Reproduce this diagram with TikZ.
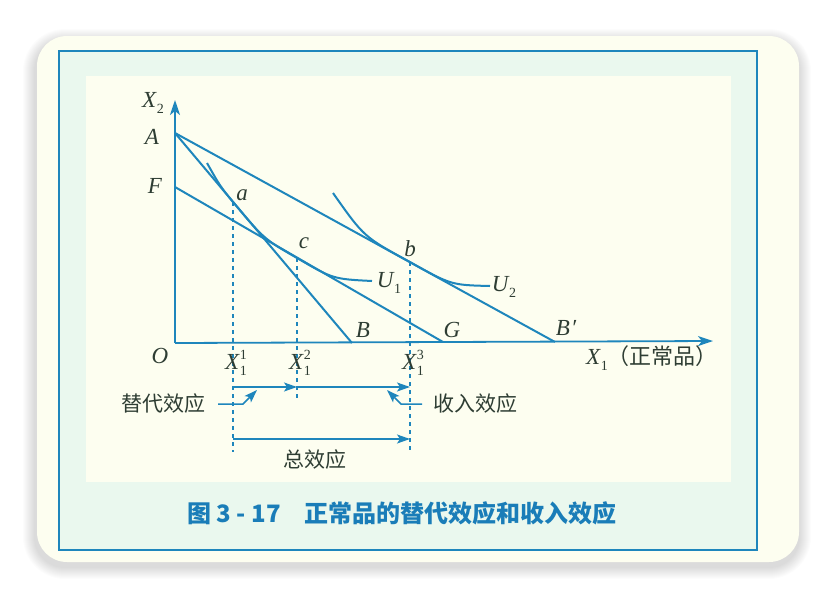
\documentclass[tikz,border=0pt]{standalone}
\usepackage{fontspec}
\setmainfont{Liberation Serif}
\newfontfamily\cjk{Noto Sans CJK SC}
\usetikzlibrary{arrows.meta}
\definecolor{lineblue}{HTML}{1E86BC}
\definecolor{txt}{HTML}{2E3D33}
\definecolor{capblue}{HTML}{1A7DB8}
\definecolor{card}{HTML}{FDFEF0}
\definecolor{mint}{HTML}{EAF8EE}
\newcommand{\smallidx}[1]{{\fontsize{14}{14}\selectfont\upshape #1}}
\newcommand{\Xsub}[1]{\textit{X}\kern0.5pt\raisebox{-0.28em}{\smallidx{#1}}}
\newcommand{\Xsubsup}[2]{\textit{X}\kern0.5pt\makebox[0pt][l]{\raisebox{0.42em}{\smallidx{#2}}}\raisebox{-0.3em}{\smallidx{#1}}}
\newcommand{\Usub}[1]{\textit{U}\kern0.5pt\raisebox{-0.28em}{\smallidx{#1}}}
\tikzset{
  curveline/.style={lineblue, line width=2pt},
  axisline/.style={lineblue, line width=1.8pt, -{Stealth[length=15pt,width=10pt,inset=4pt]}},
  guide/.style={lineblue, line width=1.2pt, dash pattern=on 4pt off 4pt},
  effarrow/.style={lineblue, line width=1.5pt, -{Stealth[length=13pt,width=9pt,inset=3pt]}},
  lbl/.style={text=txt, font=\fontsize{23}{26}\selectfont\itshape, inner sep=0pt},
  zlbl/.style={text=txt, font=\cjk\fontsize{21}{24}\selectfont, inner sep=0pt},
}
\begin{document}
\begin{tikzpicture}[x=1pt,y=-1pt]
\useasboundingbox (0,0) rectangle (836,598);
\fill[white] (0,0) rectangle (836,598);
% shadow
\foreach \i in {1,...,12}{
  \fill[black, opacity=0.012, rounded corners=30+\i] (37-\i-2,36-\i+5) rectangle (799+\i,562+\i+5);
}
% card
\fill[card, rounded corners=30] (37,36) rectangle (799,562);
% frame
\fill[mint] (59,51) rectangle (757,550);
\fill[card] (86,76) rectangle (731,482);
\draw[lineblue, line width=1.6pt] (59,51) rectangle (757,550);

% key points
\coordinate (O) at (175,343);
\coordinate (ytip) at (175,100);
\coordinate (xtip) at (713,341);
\coordinate (A) at (175,133);
\coordinate (F) at (175,187);
\coordinate (B) at (352,343);
\coordinate (G) at (443,342);
\coordinate (Bp) at (555,342);
\coordinate (a) at (233,202);
\coordinate (c) at (297,258);
\coordinate (b) at (410,262);
\coordinate (u1s) at (207,163);
\coordinate (u1e) at (372,281);
\coordinate (u2s) at (333,193);
\coordinate (u2e) at (490,286);

% axes
\draw[axisline] (O) -- (ytip);
\draw[axisline] (O) -- (xtip);

% budget lines
\draw[curveline] (A) -- (B);
\draw[curveline] (A) -- (Bp);
\draw[curveline] (F) -- (G);

% indifference curves
\draw[curveline] (u1s) .. controls (220,186) .. (a) .. controls (264,239) .. (c) .. controls (333,279) .. (u1e);
\draw[curveline] (u2s) .. controls (364,237) .. (b) .. controls (451,285) .. (u2e);

% dashed guides
\coordinate (a0) at (233,452);
\coordinate (c0) at (297,398);
\coordinate (b0) at (410,452);
\draw[guide] (a) -- (a0);
\draw[guide] (c) -- (c0);
\draw[guide] (b) -- (b0);

% effect arrows
\coordinate (r1) at (233,387);
\coordinate (r2) at (297,387);
\coordinate (r3) at (410,387);
\coordinate (q1) at (233,439);
\coordinate (q3) at (410,439);
\draw[effarrow] (r1) -- (r2);
\draw[effarrow] (r2) -- (r3);
\draw[effarrow] (q1) -- (q3);
\coordinate (s0) at (218,404);
\coordinate (s1) at (243,404);
\coordinate (s2) at (257,390);
\coordinate (i0) at (422,404);
\coordinate (i1) at (401,404);
\coordinate (i2) at (387,390);
\draw[effarrow] (s0) -- (s1) -- (s2);
\draw[effarrow] (i0) -- (i1) -- (i2);

% labels
\node[lbl] (lX2) at (153,103) {\Xsub{2}};
\node[lbl] (lA) at (152,137) {A};
\node[lbl] (lF) at (155,186) {F};
\node[lbl] (lO) at (160,356) {O};
\node[lbl] (la) at (242,195) {a};
\node[lbl] (lc) at (304,243) {c};
\node[lbl] (lb) at (410,249) {b};
\node[lbl] (lB) at (363,330) {B};
\node[lbl] (lG) at (452,330) {G};
\node[lbl] (lBp) at (566,328) {B\kern1pt′};
\node[lbl] (lU1) at (389,283) {\Usub{1}};
\node[lbl] (lU2) at (504,287) {\Usub{2}};
\node[lbl, anchor=west] (lX1) at (586,358) {\Xsub{1}{\cjk\upshape\fontsize{22}{24}\selectfont（正常品）}};
\node[lbl] (lx11) at (236,363) {\Xsubsup{1}{1}};
\node[lbl] (lx12) at (300,363) {\Xsubsup{1}{2}};
\node[lbl] (lx13) at (413,363) {\Xsubsup{1}{3}};
\node[zlbl] (tsub) at (163,404) {替代效应};
\node[zlbl] (tinc) at (475,404) {收入效应};
\node[zlbl] (ttot) at (315,460) {总效应};
\node[anchor=west, inner sep=0pt, text=capblue, font=\cjk\bfseries\fontsize{24}{26}\selectfont] (cap) at (187,513) {图 3 - 17\hspace{1em}正常品的替代效应和收入效应};
\end{tikzpicture}
\end{document}
